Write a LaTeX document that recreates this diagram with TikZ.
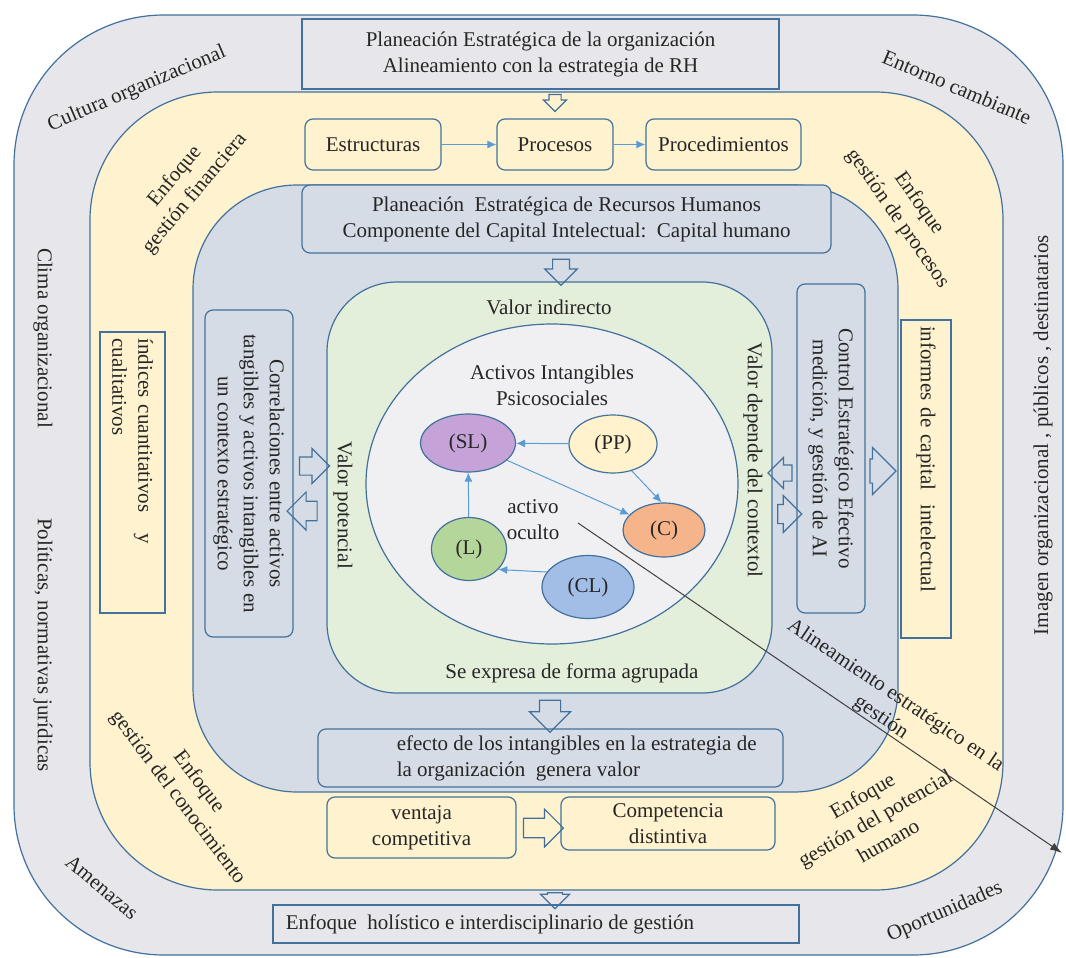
\documentclass[tikz,border=0pt]{standalone}
\usepackage{fontspec}
\setmainfont{Liberation Serif}
\usetikzlibrary{shapes.geometric,shapes.arrows,arrows.meta}
\definecolor{myedge}{HTML}{41719C}
\definecolor{mytext}{HTML}{262626}
\definecolor{grayfill}{HTML}{E7E6EB}
\definecolor{yellowfill}{HTML}{FFF2CF}
\definecolor{bluefill}{HTML}{D6DCE6}
\definecolor{greenfill}{HTML}{E3EFDA}
\definecolor{circlefill}{HTML}{F0F0F2}
\definecolor{linkblue}{HTML}{5B9BD5}
\definecolor{slfill}{HTML}{C5A3D9}
\definecolor{ppfill}{HTML}{FFF2CC}
\definecolor{cfill}{HTML}{F6B48A}
\definecolor{lfill}{HTML}{B5D69A}
\definecolor{clfill}{HTML}{A2BDE6}
\tikzset{my zone/.style={draw=myedge, line width=0.6pt},
my box/.style={draw=myedge, line width=0.6pt, rounded corners=4pt, align=center, inner sep=0pt, text=mytext, font=\rmfamily\fontsize{10.5}{13}\selectfont},
my square box/.style={my box, sharp corners},
my text/.style={align=center, inner sep=0pt, text=mytext, font=\rmfamily\fontsize{10.5}{13}\selectfont},
my asset/.style={ellipse, draw=myedge, line width=0.6pt, inner sep=0pt, text=mytext, font=\rmfamily\fontsize{10.5}{13}\selectfont},
my link/.style={draw=linkblue, line width=0.5pt, -{Latex[length=4.5pt,width=4pt]}},
my fat arrow/.style={single arrow, draw=myedge, line width=0.6pt, inner xsep=0pt, inner ysep=#1, single arrow head extend=#1},}

\begin{document}
\begin{tikzpicture}[x=0.5pt,y=-0.5pt]
\useasboundingbox (0,0) rectangle (1066,958);
\fill[white] (0,0) rectangle (1066,958);
\draw[my zone, fill=grayfill, rounded corners=75pt] (14,15) rectangle (1063,955);
\draw[my zone, fill=yellowfill, rounded corners=64pt] (90,92) rectangle (1003,890);
\draw[my zone, fill=bluefill, rounded corners=52pt] (193,185) rectangle (898,792);
\draw[my zone, fill=greenfill, rounded corners=35pt] (327,282) rectangle (772,693);
\node [my asset, fill=circlefill, minimum width=186pt, minimum height=160pt] (psico) at (552,484) {};

% boxes
\node [my square box, fill=grayfill, minimum width=238.5pt, minimum height=35pt] (org) at (540.5,54) {Planeación Estratégica de la organización\\Alineamiento con la estrategia de RH};
\node [my box, fill=yellowfill, minimum width=68pt, minimum height=25.5pt] (estr) at (373,144.5) {Estructuras};
\node [my box, fill=yellowfill, minimum width=58pt, minimum height=25.5pt] (proc) at (555,144.5) {Procesos};
\node [my box, fill=yellowfill, minimum width=77.5pt, minimum height=25.5pt] (procd) at (723.5,144.5) {Procedimientos};
\node [my box, fill=bluefill, minimum width=264.5pt, minimum height=34pt] (rrhh) at (566.5,219) {Planeación\ \ Estratégica de Recursos Humanos\\Componente del Capital Intelectual:\ \ Capital humano};
\node [my box, fill=bluefill, rotate=-90, minimum width=163.5pt, minimum height=44pt] (corr) at (249,473.5) {Correlaciones entre activos\\tangibles y activos intangibles en\\un contexto estratégico};
\node [my square box, fill=yellowfill, rotate=-90, minimum width=140.5pt, minimum height=32.5pt, text width=134pt, align=left] (indices) at (132.5,472.5) {índices cuantitativos\ \ \ y\\cualitativos};
\node [my box, fill=bluefill, rotate=-90, minimum width=164.5pt, minimum height=34pt] (ctrl) at (831,448.5) {Control Estratégico Efectivo\\medición, y gestión de AI};
\node [my square box, fill=yellowfill, rotate=-90, minimum width=159pt, minimum height=25pt, text width=153pt, align=left] (informes) at (926,479) {informes de capital\ \ intelectual};
\node [my box, fill=bluefill, minimum width=232.5pt, minimum height=29pt] (efecto) at (550.5,758) {};
\node [my text, anchor=west, align=left] (efectotxt) at ([xshift=39.5pt]efecto.west) {efecto de los intangibles en la estrategia de\\la organización\ \ genera valor};
\node [my box, fill=yellowfill, minimum width=94.5pt, minimum height=30.5pt] (ventaja) at (421.5,827.5) {ventaja\\competitiva};
\node [my box, fill=yellowfill, minimum width=107pt, minimum height=26.5pt] (compet) at (668,823.5) {Competencia\\distintiva};
\node [my square box, fill=grayfill, minimum width=263pt, minimum height=19pt] (holistico) at (536,924) {};
\node [my text, anchor=west] (holisticotxt) at ([xshift=6.5pt]holistico.west) {Enfoque\ \ holístico e interdisciplinario de gestión};

% block arrows
\node [my fat arrow=2.75pt, rotate=-90, minimum height=8.5pt] (a1) at (555,100) {};
\node [my fat arrow=3.9pt, rotate=-90, minimum height=13pt] (a2) at (561,268) {};
\node [my fat arrow=5pt, rotate=-90, minimum height=16pt] (a3) at (550,711) {};
\node [my fat arrow=3.5pt, rotate=-90, minimum height=8pt] (a4) at (555,897) {};
\node [my fat arrow=4.6pt, minimum height=20pt] (a5) at (538.5,828) {};
\node [my fat arrow=4.25pt, minimum height=15pt] (a6) at (310,466) {};
\node [my fat arrow=4.6pt, rotate=180, minimum height=15pt] (a7) at (307,511) {};
\node [my fat arrow=3.75pt, rotate=180, minimum height=12pt] (a8) at (784,473) {};
\node [my fat arrow=4.5pt, minimum height=12pt] (a9) at (785,514) {};
\node [my fat arrow=5.75pt, minimum height=13pt] (a10) at (877,471) {};

% assets
\node [my asset, fill=slfill, minimum width=47.5pt, minimum height=29pt] (SL) at (468,443) {(SL)};
\node [my asset, fill=ppfill, minimum width=44pt, minimum height=29pt] (PP) at (613,444) {(PP)};
\node [my asset, fill=cfill, minimum width=41pt, minimum height=27pt] (C) at (664,530) {(C)};
\node [my asset, fill=lfill, minimum width=37.5pt, minimum height=31.5pt] (L) at (469,549) {(L)};
\node [my asset, fill=clfill, minimum width=46pt, minimum height=31.5pt] (CL) at (588,587) {(CL)};
\draw[my link] (PP) -- (SL);
\draw[my link] (SL) -- (C);
\draw[my link] (PP.-55) -- (C.95);
\draw[my link] (L) -- (SL);
\draw[my link] (CL.160) -- (L.-35);
\draw[my link] (estr) -- (proc);
\draw[my link] (proc) -- (procd);

% labels
\node [my text] (valind) at (549,307) {Valor indirecto};
\node [my text] (activos) at (552,385) {Activos Intangibles\\Psicosociales};
\node [my text] (oculto) at (533,520) {activo\\oculto};
\node [my text, rotate=-90] (valpot) at (343,505) {Valor potencial};
\node [my text, rotate=-90] (valdep) at (753,460) {Valor depende del contextol};
\node [my text] (agrupada) at (572,673) {Se expresa de forma agrupada};
\node [my text, rotate=23] (cultura) at (137,89) {Cultura organizacional};
\node [my text, rotate=-23] (entorno) at (957,87) {Entorno cambiante};
\node [my text, rotate=-40] (amenazas) at (102,887) {Amenazas};
\node [my text, rotate=23.5] (oportunidades) at (945,912) {Oportunidades};
\node [my text, rotate=-90] (clima) at (43,338) {Clima organizacional};
\node [my text, rotate=-90] (politicas) at (43,645) {Políticas, normativas jurídicas};
\node [my text, rotate=90] (imagen) at (1043,435) {Imagen organizacional , públicos , destinatarios};
\node [my text, rotate=50] (enffin) at (185,185) {Enfoque\\gestión financiera};
\node [my text, rotate=-55] (enfproc) at (908,211) {Enfoque\\gestión de procesos};
\node [my text, rotate=-53] (enfcon) at (188,790) {Enfoque\\gestión del conocimiento};
\node [my text, rotate=30] (enfpot) at (875,818) {Enfoque\\gestión del potencial\\humano};
\node [my text, rotate=-34] (alineam) at (888,707) {Alineamiento estratégico en la\\gestión};

% alignment arrow
\coordinate (aliS) at (578,523);
\coordinate (aliE) at (1062,853);
\draw[draw=black!75, line width=0.5pt, -{Latex[length=6pt,width=4pt]}] (aliS) -- (aliE);
\end{tikzpicture}
\end{document}
